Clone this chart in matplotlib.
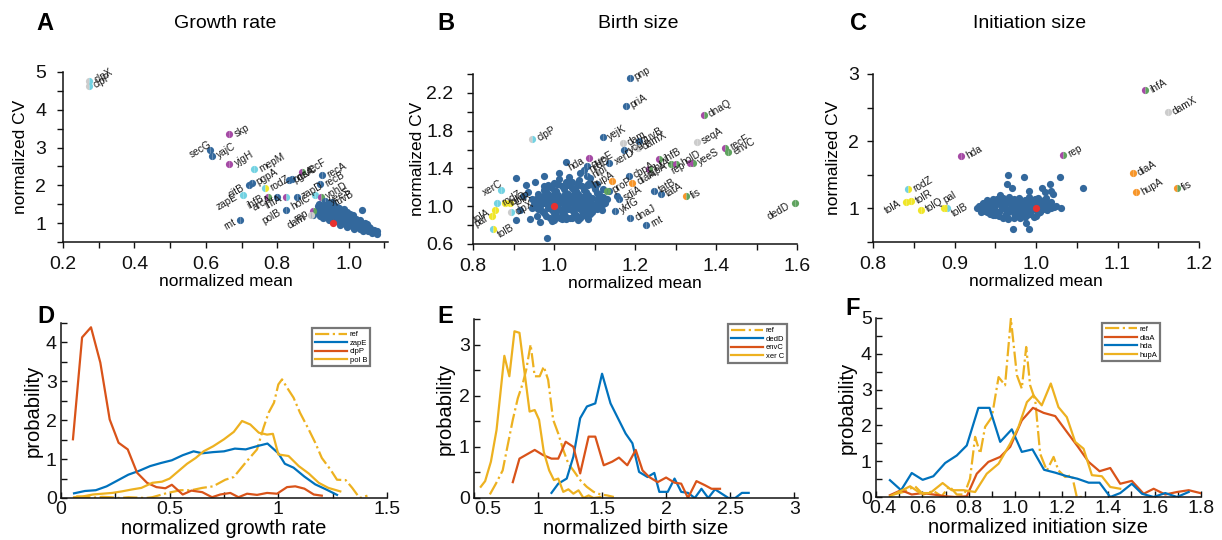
import matplotlib
matplotlib.use('Agg')
import matplotlib.pyplot as plt
import matplotlib.transforms as mtrans

plt.rcParams['font.family'] = ['Liberation Sans', 'DejaVu Sans']

# ---------------- colours ----------------
COL = {'b': '#33689c', 'r': '#e8312f', 'c': '#72d2e2', 'p': '#a54aa5',
       'g': '#5fa35f', 'y': '#f0e628', 'o': '#f7962a', 'k': '#cccccc'}
ML_BLUE, ML_RED, ML_YEL = '#0072bd', '#d95319', '#edb120'

# ---------------- panel A data (growth rate) ----------------
a_bg_x = [0.918, 0.933, 0.946, 0.958, 0.915, 0.929, 0.941, 0.954, 0.967, 0.921, 0.935, 0.947, 0.961, 0.974, 0.987,
          0.912, 0.926, 0.939, 0.956, 0.969, 0.981, 0.996, 0.916, 0.931, 0.944, 0.961, 0.976, 0.989, 1.004,
          0.921, 0.936, 0.951, 0.964, 0.979, 0.996, 1.011, 0.929, 0.946, 0.959, 0.976, 0.991, 1.006, 1.021,
          0.944, 0.961, 0.974, 0.989, 1.006, 1.019, 1.033, 0.957, 0.973, 0.987, 1.003, 1.015, 1.031, 1.045,
          0.976, 0.991, 1.004, 1.021, 1.036, 1.051, 0.994, 1.011, 1.026, 1.039, 1.056, 1.016, 1.031, 1.044,
          1.059, 1.071, 1.041, 1.054, 1.067, 1.079, 1.066, 1.079, 1.036, 0.905, 0.900, 0.952, 0.985, 1.012]
a_bg_y = [1.51, 1.49, 1.52, 1.48, 1.44, 1.45, 1.42, 1.45, 1.43, 1.38, 1.37, 1.40, 1.36, 1.39, 1.37,
          1.32, 1.33, 1.30, 1.33, 1.31, 1.34, 1.30, 1.26, 1.27, 1.25, 1.28, 1.24, 1.27, 1.25,
          1.20, 1.21, 1.19, 1.22, 1.20, 1.18, 1.21, 1.14, 1.15, 1.13, 1.16, 1.13, 1.15, 1.12,
          1.08, 1.09, 1.07, 1.10, 1.06, 1.09, 1.07, 1.02, 1.03, 1.01, 1.04, 1.00, 1.03, 1.01,
          0.96, 0.97, 0.95, 0.98, 0.94, 0.97, 0.90, 0.91, 0.89, 0.92, 0.90, 0.84, 0.85, 0.83,
          0.86, 0.82, 0.78, 0.79, 0.77, 0.80, 0.73, 0.72, 1.34, 1.30, 1.22, 1.56, 1.10, 0.95]
a_ref = (0.955, 1.0)
a_names = ['clpX', 'clpP', 'skp', 'secG', 'yajC', 'yjgH', 'mepM', 'pgpA', 'citB', 'rodZ', 'ruvC', 'pgsA',
           'recF', 'recA', 'recB', 'zapE', 'ihfB', 'arcA', 'ihfA', 'zapD', 'holC', 'yohD', 'yeeS', 'ruvB',
           'rnt', 'polB', 'rep', 'dam']
a_x = [0.274, 0.272, 0.666, 0.611, 0.618, 0.666, 0.736, 0.728, 0.722, 0.766, 0.841, 0.832,
       0.869, 0.925, 0.920, 0.703, 0.775, 0.799, 0.825, 0.855, 0.906, 0.922, 0.934, 0.946,
       0.697, 0.824, 0.900, 0.894]
a_y = [4.77, 4.64, 3.35, 2.93, 2.78, 2.57, 2.42, 2.07, 2.00, 1.92, 2.18, 2.13,
       2.36, 2.27, 2.03, 1.75, 1.70, 1.70, 1.70, 1.70, 1.74, 1.70, 1.58, 1.52,
       1.08, 1.34, 1.33, 1.21]
a_col = ['kc', 'kc', 'pp', 'bb', 'bb', 'pp', 'cc', 'bb', 'bb', 'cy', 'bb', 'bb',
         'pg', 'bb', 'bb', 'cc', 'pg', 'bb', 'pc', 'bb', 'cc', 'pg', 'bb', 'bb',
         'bb', 'bb', 'pg', 'kk']
a_side = ['r', 'r', 'r', 'L', 'r', 'r', 'r', 'r', 'l', 'r', 'r', 'r',
          'r', 'r', 'r', 'l', 'l', 'l', 'l', 'r', 'l', 'r', 'r', 'r',
          'l', 'l', 'l', 'l']

# ---------------- panel B data (birth size) ----------------
b_bg_x = [1.000, 1.030, 1.060, 1.090, 0.990, 1.020, 1.045, 1.070, 1.100, 0.980, 1.005, 1.030, 1.055, 1.080, 1.105,
          0.970, 0.995, 1.020, 1.045, 1.070, 1.095, 1.120, 0.965, 0.990, 1.015, 1.040, 1.065, 1.090, 1.115,
          0.960, 0.985, 1.010, 1.035, 1.060, 1.085, 1.110, 0.970, 0.995, 1.020, 1.045, 1.070, 1.095,
          0.980, 1.005, 1.030, 1.055, 1.080, 1.000, 1.030, 1.060,
          1.012, 1.038, 1.062, 1.008, 1.033, 1.058, 1.083, 0.978, 1.003, 1.028, 1.052, 1.078, 0.985, 1.010, 1.035,
          1.060, 1.025, 1.050, 1.075,
          0.985, 1.010, 1.035, 1.060, 1.085, 0.975, 1.000, 1.025, 1.050, 1.075, 1.100,
          0.960, 0.985, 1.010, 1.035, 1.060, 1.085, 1.110, 0.955, 0.980, 1.005, 1.030, 1.055, 1.080, 1.105, 1.130,
          0.950, 0.975, 1.000, 1.025, 1.050, 1.075, 1.100, 1.125, 0.960, 0.985, 1.010, 1.035, 1.060, 1.085, 1.105,
          0.975, 1.000, 1.025, 1.050, 1.075, 1.090, 0.990, 1.015, 1.040, 1.065,
          0.907, 0.931, 0.953, 0.976, 0.976, 0.924, 0.945, 0.945, 0.940, 0.966, 0.983, 1.029, 1.064, 1.013, 1.044,
          1.089, 1.098, 1.114, 1.118, 1.093, 1.063, 1.019, 0.994, 1.044, 1.085, 1.135, 1.155, 1.122, 0.916, 0.959,
          0.966, 0.906, 0.935, 1.120, 1.105]
b_bg_y = [1.25, 1.26, 1.24, 1.25, 1.20, 1.21, 1.19, 1.21, 1.20, 1.15, 1.16, 1.14, 1.16, 1.15, 1.14,
          1.10, 1.11, 1.09, 1.11, 1.10, 1.09, 1.10, 1.05, 1.06, 1.04, 1.06, 1.05, 1.04, 1.05,
          1.00, 1.01, 0.99, 1.01, 1.00, 0.99, 1.00, 0.95, 0.96, 0.94, 0.96, 0.95, 0.94,
          0.90, 0.91, 0.89, 0.91, 0.90, 0.85, 0.86, 0.85,
          1.29, 1.31, 1.28, 1.23, 1.22, 1.23, 1.22, 1.13, 1.12, 1.13, 1.12, 1.12, 1.02, 1.03, 1.02,
          1.03, 0.97, 0.98, 0.97,
          1.225, 1.23, 1.22, 1.225, 1.23, 1.175, 1.17, 1.18, 1.175, 1.17, 1.18,
          1.125, 1.13, 1.12, 1.125, 1.13, 1.12, 1.125, 1.075, 1.08, 1.07, 1.075, 1.08, 1.07, 1.075, 1.08,
          1.025, 1.03, 1.02, 1.025, 1.03, 1.02, 1.025, 1.03, 0.975, 0.98, 0.97, 0.975, 0.98, 0.97, 0.975,
          0.925, 0.93, 0.92, 0.925, 0.93, 0.92, 0.875, 0.88, 0.87, 0.875,
          1.30, 1.22, 1.26, 1.32, 1.21, 1.105, 1.08, 0.98, 0.86, 0.83, 0.66, 1.465, 1.35, 1.35, 1.26,
          1.30, 1.21, 1.07, 0.96, 0.98, 0.89, 0.86, 0.84, 0.875, 0.86, 1.16, 1.105, 1.027, 0.964, 0.893,
          1.00, 0.858, 1.15, 1.18, 1.24]
b_ref = (1.0, 1.0)
b_names = ['pnp', 'priA', 'clpP', 'yejK', 'dam', 'ruvB', 'ycgG', 'damX', 'hda', 'queE', 'xerD', 'nrdD',
           'nlpI', 'hupA', 'proP', 'cbpA', 'diaA', 'sdiA', 'ihfB', 'ihfA', 'rapA', 'holD', 'rep', 'yeeS',
           'dnaQ', 'seqA', 'recF', 'envC', 'tatB', 'tatA', 'fis', 'ykfG', 'dnaJ', 'rnt', 'dedD', 'xerC',
           'rodZ', 'tolR', 'tolA', 'pal', 'tolQ', 'clpX', 'tolB']
b_x = [1.187, 1.177, 0.946, 1.122, 1.170, 1.209, 1.172, 1.207, 1.087, 1.081, 1.137, 1.075,
       1.081, 1.143, 1.132, 1.184, 1.193, 1.160, 1.259, 1.234, 1.290, 1.302, 1.336, 1.342,
       1.370, 1.352, 1.422, 1.430, 1.246, 1.263, 1.325, 1.151, 1.188, 1.227, 1.595, 0.868,
       0.860, 0.891, 0.854, 0.848, 0.879, 0.893, 0.850]
b_y = [2.36, 2.06, 1.71, 1.73, 1.67, 1.695, 1.59, 1.62, 1.51, 1.43, 1.46, 1.38,
       1.32, 1.27, 1.165, 1.32, 1.25, 1.08, 1.50, 1.39, 1.45, 1.45, 1.46, 1.46,
       1.97, 1.68, 1.62, 1.57, 1.165, 1.13, 1.105, 0.95, 0.87, 0.805, 1.03, 1.176,
       1.035, 1.03, 0.957, 0.893, 1.03, 0.935, 0.76]
b_col = ['bb', 'bb', 'kc', 'bb', 'kk', 'bb', 'bb', 'kk', 'pp', 'bb', 'bb', 'bb',
         'bb', 'oo', 'gg', 'bb', 'oo', 'bb', 'pg', 'pg', 'gg', 'pg', 'pg', 'pg',
         'pg', 'kk', 'pg', 'gg', 'bb', 'bb', 'og', 'bb', 'bb', 'bb', 'gg', 'cc',
         'cc', 'yy', 'yy', 'yy', 'yy', 'kc', 'cy']
b_side = ['r', 'r', 'r', 'r', 'r', 'r', 'r', 'r', 'l', 'r', 'r', 'r',
          'r', 'L', 'r', 'r', 'r', 'r', 'r', 'r', 'l', 'r', 'l', 'r',
          'r', 'r', 'r', 'r', 'r', 'r', 'r', 'r', 'r', 'r', 'l', 'L',
          'r', 'r', 'l', 'l', 'r', 'r', 'R']

# ---------------- panel C data (initiation size) ----------------
c_bg_x = [0.955, 0.967, 0.979, 0.991, 1.003, 0.940, 0.950, 0.960, 0.970, 0.980, 0.990, 1.000, 1.010,
          0.935, 0.945, 0.955, 0.965, 0.975, 0.985, 0.995, 1.005, 1.015,
          0.930, 0.940, 0.950, 0.960, 0.970, 0.980, 0.990, 1.000, 1.010,
          0.928, 0.938, 0.948, 0.958, 0.968, 0.978, 0.988, 1.008, 1.018,
          0.935, 0.945, 0.955, 0.965, 0.975, 0.985, 0.995, 1.005,
          0.943, 0.953, 0.963, 0.973, 0.983, 0.993, 1.003,
          0.955, 0.965, 0.975, 0.985, 0.997, 0.966, 0.980,
          0.947, 0.960, 0.973, 0.986, 0.999, 1.012, 0.940, 0.953, 0.966, 0.979, 0.992, 1.005, 1.018,
          0.935, 0.948, 0.961, 0.974, 0.987, 1.000, 1.013, 0.932, 0.945, 0.958, 0.971, 0.984, 0.997, 1.010, 1.022,
          0.936, 0.949, 0.962, 0.975, 0.988, 1.001, 1.014, 0.940, 0.953, 0.966, 0.979, 0.992, 1.005,
          0.950, 0.963, 0.976, 0.989, 1.000, 0.960, 0.973, 0.986,
          0.966, 0.985, 1.030, 0.964, 0.970, 0.992, 1.007, 1.017, 1.021, 1.011, 1.025, 0.931, 0.945, 0.933,
          0.972, 0.992, 0.988, 0.964, 0.952, 1.058, 1.031, 0.956, 1.019, 0.942, 0.947]
c_bg_y = [1.16, 1.17, 1.15, 1.17, 1.16, 1.12, 1.13, 1.11, 1.13, 1.12, 1.11, 1.13, 1.12,
          1.08, 1.07, 1.09, 1.08, 1.07, 1.09, 1.08, 1.07, 1.08,
          1.04, 1.05, 1.03, 1.05, 1.04, 1.03, 1.05, 1.04, 1.03,
          1.00, 0.99, 1.01, 1.00, 0.99, 1.01, 1.00, 0.99, 1.00,
          0.96, 0.97, 0.95, 0.97, 0.96, 0.95, 0.97, 0.96,
          0.92, 0.93, 0.91, 0.93, 0.92, 0.91, 0.93,
          0.88, 0.87, 0.89, 0.88, 0.87, 0.84, 0.85,
          1.14, 1.15, 1.14, 1.13, 1.14, 1.15, 1.10, 1.10, 1.11, 1.10, 1.09, 1.10, 1.10,
          1.06, 1.06, 1.07, 1.06, 1.05, 1.06, 1.06, 1.02, 1.02, 1.03, 1.02, 1.01, 1.02, 1.02, 1.02,
          0.98, 0.98, 0.99, 0.98, 0.97, 0.98, 0.98, 0.94, 0.94, 0.95, 0.94, 0.93, 0.94,
          0.90, 0.90, 0.91, 0.90, 0.89, 0.86, 0.86, 0.87,
          1.49, 1.46, 1.46, 1.36, 1.31, 1.26, 1.31, 1.36, 1.21, 1.24, 1.04, 1.02, 1.06, 0.94,
          0.69, 0.69, 0.79, 1.11, 1.14, 1.30, 1.00, 1.20, 1.26, 1.10, 0.90]
c_ref = (1.0, 1.0)
c_names = ['ihfA', 'damX', 'hda', 'rep', 'diaA', 'hupA', 'fis', 'rodZ', 'tolA', 'tolR', 'tolQ', 'pal', 'tolB']
c_x = [1.134, 1.162, 0.908, 1.033, 1.119, 1.123, 1.173, 0.843, 0.841, 0.847, 0.859, 0.887, 0.891]
c_y = [2.76, 2.43, 1.78, 1.80, 1.52, 1.24, 1.30, 1.29, 1.10, 1.11, 0.98, 1.01, 1.01]
c_col = ['pg', 'kk', 'pp', 'pg', 'oo', 'oo', 'og', 'cy', 'yy', 'yy', 'yy', 'yy', 'yc']
c_side = ['r', 'r', 'r', 'r', 'r', 'r', 'r', 'r', 'l', 'r', 'r', 'U', 'R']

# ---------------- panel D data ----------------
d_ref_x = [0.07, 0.11, 0.15, 0.19, 0.23, 0.27, 0.31, 0.35, 0.39, 0.42, 0.49, 0.55, 0.60, 0.65, 0.70, 0.756,
           0.795, 0.848, 0.902, 0.932, 0.955, 0.98, 1.0, 1.017, 1.04, 1.07, 1.10, 1.14, 1.17, 1.20, 1.24, 1.27,
           1.31, 1.34, 1.374, 1.41]
d_ref_y = [0.04, 0.03, 0.01, 0.03, 0.02, 0.0, 0.02, 0.01, 0.0, 0.02, 0.13, 0.2, 0.2, 0.26, 0.30, 0.47,
           0.54, 0.9, 1.25, 1.81, 2.19, 2.45, 2.92, 3.05, 2.84, 2.58, 2.19, 1.76, 1.42, 1.03, 0.73, 0.47,
           0.46, 0.26, 0.0, 0.06]
d_zapE_x = [0.06, 0.11, 0.16, 0.21, 0.26, 0.31, 0.36, 0.41, 0.46, 0.51, 0.56, 0.61, 0.65, 0.70, 0.75, 0.80,
            0.85, 0.90, 0.95, 1.0, 1.03, 1.07, 1.12, 1.17, 1.22, 1.27]
d_zapE_y = [0.12, 0.18, 0.2, 0.3, 0.45, 0.6, 0.7, 0.82, 0.9, 0.97, 1.1, 1.2, 1.15, 1.18, 1.2, 1.27,
            1.25, 1.33, 1.4, 1.15, 0.88, 0.78, 0.55, 0.35, 0.22, 0.08]
d_clpP_x = [0.055, 0.097, 0.138, 0.181, 0.224, 0.265, 0.307, 0.35, 0.396, 0.439, 0.48, 0.51, 0.56, 0.60,
            0.65, 0.695, 0.733, 0.779, 0.817, 0.856, 0.902, 0.948, 0.994, 1.04, 1.078, 1.12, 1.163, 1.20]
d_clpP_y = [1.51, 4.13, 4.39, 3.48, 2.02, 1.42, 1.25, 0.65, 0.39, 0.28, 0.25, 0.34, 0.09, 0.19,
            0.15, 0.02, 0.09, 0.13, 0.02, 0.11, 0.08, 0.13, 0.11, 0.28, 0.30, 0.24, 0.09, 0.06]
d_polB_x = [0.06, 0.10, 0.147, 0.19, 0.235, 0.28, 0.327, 0.37, 0.42, 0.465, 0.50, 0.54, 0.58, 0.62, 0.656,
            0.70, 0.75, 0.795, 0.833, 0.871, 0.91, 0.948, 0.975, 1.0, 1.047, 1.094, 1.14, 1.186, 1.23, 1.285]
d_polB_y = [0.02, 0.04, 0.09, 0.11, 0.13, 0.17, 0.22, 0.26, 0.39, 0.42, 0.50, 0.69, 0.88, 1.03, 1.2,
            1.33, 1.51, 1.70, 1.98, 1.89, 1.68, 1.63, 1.65, 1.12, 1.08, 0.82, 0.63, 0.39, 0.26, 0.17]

# ---------------- panel E data ----------------
e_ref_x = [0.624, 0.671, 0.724, 0.763, 0.803, 0.842, 0.882, 0.908, 0.942, 0.974, 1.013, 1.045, 1.079, 1.118,
           1.158, 1.197, 1.237, 1.276, 1.329, 1.38, 1.434, 1.487, 1.54, 1.592]
e_ref_y = [0.07, 0.28, 0.54, 1.03, 1.53, 1.95, 2.25, 2.51, 3.0, 2.38, 2.38, 2.57, 2.31, 1.53,
           1.26, 0.94, 0.67, 0.54, 0.35, 0.22, 0.12, 0.07, 0.05, 0.02]
e_dedD_x = [1.105, 1.158, 1.224, 1.276, 1.329, 1.382, 1.447, 1.5, 1.566, 1.618, 1.684, 1.737, 1.789, 1.855,
            1.908, 1.947, 2.013, 2.066, 2.118, 2.171, 2.224, 2.276, 2.329, 2.382, 2.434, 2.487, 2.54, 2.592, 2.645]
e_dedD_y = [0.1, 0.28, 0.38, 0.81, 1.56, 1.79, 1.85, 2.43, 1.85, 1.59, 1.26, 1.07, 0.51, 0.41,
            0.49, 0.12, 0.12, 0.38, 0.12, 0.1, 0.0, 0.18, 0.0, 0.17, 0.085, 0.0, 0.0, 0.1, 0.1]
e_envC_x = [0.803, 0.855, 0.974, 1.039, 1.105, 1.158, 1.216, 1.276, 1.329, 1.395, 1.447, 1.513, 1.579, 1.632,
            1.697, 1.763, 1.816, 1.868, 1.934, 2.0, 2.066, 2.118, 2.171, 2.237, 2.303, 2.355, 2.421]
e_envC_y = [0.31, 0.77, 0.94, 0.84, 0.77, 0.77, 1.10, 1.0, 0.48, 1.2, 1.2, 0.64, 0.71, 0.79,
            0.64, 0.94, 0.54, 0.41, 0.31, 0.40, 0.30, 0.28, 0.0, 0.33, 0.25, 0.18, 0.18]
e_xerC_x = [0.553, 0.587, 0.632, 0.676, 0.737, 0.776, 0.816, 0.855, 0.934, 0.974, 1.008, 1.045, 1.087, 1.124,
            1.158, 1.197, 1.237, 1.276, 1.316, 1.355, 1.395, 1.434, 1.487]
e_xerC_y = [0.22, 0.33, 0.71, 1.33, 2.78, 2.38, 3.26, 3.23, 1.69, 1.72, 1.53, 0.90, 0.54, 0.35,
            0.38, 0.12, 0.17, 0.085, 0.15, 0.0, 0.05, 0.0, 0.02]

# ---------------- panel F data ----------------
f_ref_x = [0.475, 0.518, 0.568, 0.604, 0.647, 0.683, 0.716, 0.748, 0.78, 0.805, 0.827, 0.849, 0.87, 0.899,
           0.928, 0.956, 0.981, 1.007, 1.028, 1.047, 1.064, 1.086, 1.107, 1.136, 1.165, 1.186, 1.215, 1.244,
           1.265, 1.287]
f_ref_y = [0.07, 0.14, 0.3, 0.07, 0.17, 0.02, 0.3, 0.07, 0.07, 0.51, 1.68, 1.21, 1.96, 2.23,
           3.35, 3.12, 4.98, 3.40, 3.03, 4.19, 3.12, 2.70, 1.21, 0.74, 1.12, 0.74, 0.56, 0.61,
           0.0, 0.0]
f_diaA_x = [0.46, 0.508, 0.554, 0.601, 0.647, 0.698, 0.74, 0.791, 0.834, 0.884, 0.935, 0.978, 1.028, 1.076,
            1.122, 1.172, 1.222, 1.268, 1.316, 1.363, 1.409, 1.452, 1.502, 1.553, 1.596, 1.646, 1.697, 1.747,
            1.797]
f_diaA_y = [0.05, 0.19, 0.07, 0.11, 0.07, 0.02, 0.0, 0.02, 0.65, 0.98, 1.12, 1.40, 2.14, 2.49,
            2.35, 2.26, 1.82, 1.42, 0.98, 0.72, 0.81, 0.37, 0.45, 0.09, 0.23, 0.07, 0.14, 0.19, 0.11]
f_hda_x = [0.46, 0.508, 0.554, 0.601, 0.647, 0.698, 0.748, 0.791, 0.841, 0.889, 0.935, 0.985, 1.028, 1.074,
           1.124, 1.172, 1.222, 1.268, 1.316, 1.363, 1.409, 1.452, 1.502, 1.546, 1.596, 1.646, 1.697, 1.747]
f_hda_y = [0.47, 0.19, 0.67, 0.48, 0.58, 0.95, 1.16, 1.44, 2.49, 2.49, 1.54, 1.89, 1.26, 1.33,
           0.76, 0.68, 0.58, 0.51, 0.40, 0.40, 0.0, 0.11, 0.37, 0.09, 0.0, 0.11, 0.0, 0.14]
f_hupA_x = [0.46, 0.547, 0.59, 0.633, 0.687, 0.726, 0.777, 0.827, 0.877, 0.928, 0.978, 1.014, 1.05, 1.078,
            1.114, 1.153, 1.186, 1.222, 1.258, 1.294, 1.33, 1.373, 1.409, 1.452]
f_hupA_y = [0.02, 0.3, 0.11, 0.11, 0.39, 0.19, 0.19, 0.14, 0.65, 0.93, 1.49, 1.96, 2.65, 2.84,
            2.56, 3.17, 2.51, 2.23, 1.54, 1.35, 0.61, 0.58, 0.28, 0.23]

# ---------------- figure ----------------
W, H = 1222, 540
fig = plt.figure(figsize=(W / 100, H / 100), dpi=100)
MS = 5.2


def px_axes(l, t, r, b):
    return fig.add_axes([l / W, 1 - b / H, (r - l) / W, (b - t) / H])


def style(ax, inward=False, xpad=4, ypad=4):
    for s in ('top', 'right'):
        ax.spines[s].set_visible(False)
    for s in ('left', 'bottom'):
        ax.spines[s].set_linewidth(1.1)
        ax.spines[s].set_color('#111111')
    ax.tick_params(direction='in' if inward else 'out', length=4, width=1.0,
                   labelsize=14, colors='#111111')
    ax.tick_params(axis='x', pad=xpad)
    ax.tick_params(axis='y', pad=ypad)


def ticks(ax, axis, lo, hi, step, labelstep, fmt):
    n = int(round((hi - lo) / step))
    vals = [lo + i * step for i in range(n + 1)]
    labs = []
    for v in vals:
        k = (v - lo) / labelstep
        labs.append(fmt.format(v) if abs(k - round(k)) < 1e-6 else '')
    if axis == 'x':
        ax.set_xticks(vals)
        ax.set_xticklabels(labs)
    else:
        ax.set_yticks(vals)
        ax.set_yticklabels(labs)


def shift_first_xlabel(ax, dx_px):
    lab = ax.get_xticklabels()[0]
    lab.set_transform(lab.get_transform() + mtrans.ScaledTranslation(dx_px / 100, 0, fig.dpi_scale_trans))


def scatter_panel(ax, bgx, bgy, ref, names, xs, ys, cols, sides):
    ax.plot(bgx, bgy, 'o', ms=MS, color=COL['b'], mec='none', zorder=2)
    ax.plot([ref[0]], [ref[1]], 'o', ms=MS, color=COL['r'], mec='none', zorder=4)
    for n, x, y, c, s in zip(names, xs, ys, cols, sides):
        ax.plot([x], [y], 'o', ms=MS, fillstyle='left', markerfacecolor=COL[c[0]],
                markerfacecoloralt=COL[c[1]], mec='none', zorder=3, clip_on=False)
        if s == 'r':
            off, ha = (4, 0), 'left'
        elif s == 'R':
            off, ha = (4, -5), 'left'
        elif s == 'U':
            off, ha = (0, 5), 'left'
        elif s == 'L':
            off, ha = (1, 5), 'right'
        else:
            off, ha = (-4, -1), 'right'
        ax.annotate(n, (x, y), xytext=off, textcoords='offset points', rotation=30,
                    rotation_mode='anchor', ha=ha, va='center', fontsize=7.3, color='#1a1a1a', zorder=5)


# ---- A ----
axA = px_axes(63, 72, 388, 242)
style(axA, xpad=6, ypad=8)
scatter_panel(axA, a_bg_x, a_bg_y, a_ref, a_names, a_x, a_y, a_col, a_side)
axA.set_xlim(0.2, 1.11)
axA.set_ylim(0.5, 5.0)
ticks(axA, 'x', 0.2, 1.1, 0.1, 0.2, '{:.1f}')
ticks(axA, 'y', 0.5, 5.0, 0.5, 1.0, '{:.0f}')
axA.set_yticklabels([''] + [str(int(v)) if v == int(v) else '' for v in [1, 1.5, 2, 2.5, 3, 3.5, 4, 4.5, 5]])
axA.set_xlabel('normalized mean', fontsize=12.5, labelpad=1)
axA.set_ylabel('normalized CV', fontsize=12.5, labelpad=5)

# ---- B ----
axB = px_axes(473, 74, 797, 244)
style(axB, xpad=6, ypad=10)
scatter_panel(axB, b_bg_x, b_bg_y, b_ref, b_names, b_x, b_y, b_col, b_side)
axB.set_xlim(0.8, 1.6)
axB.set_ylim(0.6, 2.4)
ticks(axB, 'x', 0.8, 1.6, 0.1, 0.2, '{:.1f}')
ticks(axB, 'y', 0.6, 2.4, 0.2, 0.4, '{:.1f}')
axB.set_xlabel('normalized mean', fontsize=12.5, labelpad=1)
axB.set_ylabel('normalized CV', fontsize=12.5, labelpad=1)

# ---- C ----
axC = px_axes(873, 74, 1199, 242)
style(axC, xpad=6, ypad=6)
scatter_panel(axC, c_bg_x, c_bg_y, c_ref, c_names, c_x, c_y, c_col, c_side)
axC.set_xlim(0.8, 1.2)
axC.set_ylim(0.5, 3.0)
ticks(axC, 'x', 0.8, 1.2, 0.05, 0.1, '{:.1f}')
ticks(axC, 'y', 0.5, 3.0, 0.5, 1.0, '{:.0f}')
axC.set_yticklabels([''] + [str(int(v)) if v == int(v) else '' for v in [1, 1.5, 2, 2.5, 3]])
axC.set_xlabel('normalized mean', fontsize=12.5, labelpad=1)
axC.set_ylabel('normalized CV', fontsize=12.5, labelpad=5)


def legend(ax, handles, labels, x, y):
    lg = ax.legend(handles, labels, loc='upper left', bbox_to_anchor=(x, y), fontsize=5.5,
                   frameon=True, fancybox=False, handlelength=4.2, handletextpad=0.4,
                   labelspacing=0.15, borderpad=0.35, borderaxespad=0)
    fr = lg.get_frame()
    fr.set_edgecolor('#555555')
    fr.set_linewidth(1.6)


def hist_lines(ax, series):
    hs = []
    for xs, ys, c, ls in series:
        h, = ax.plot(xs, ys, color=c, lw=1.6, ls=ls)
        hs.append(h)
    return hs


# ---- D ----
axD = px_axes(61, 323, 387, 498)
style(axD, inward=True, xpad=2, ypad=3)
hD = hist_lines(axD, [(d_ref_x, d_ref_y, ML_YEL, '-.'), (d_zapE_x, d_zapE_y, ML_BLUE, '-'),
                      (d_clpP_x, d_clpP_y, ML_RED, '-'), (d_polB_x, d_polB_y, ML_YEL, '-')])
axD.set_xlim(0, 1.5)
axD.set_ylim(0, 4.5)
ticks(axD, 'x', 0, 1.5, 0.25, 0.5, '{:g}')
ticks(axD, 'y', 0, 4.5, 0.5, 1.0, '{:.0f}')
axD.set_xlabel('normalized growth rate', fontsize=14.5, labelpad=1)
axD.set_ylabel('probability', fontsize=14.5, labelpad=2)
legend(axD, hD, ['ref', 'zapE', 'clpP', 'pol B'], 0.77, 0.97)

# ---- E ----
axE = px_axes(474, 319, 798, 498)
style(axE, inward=True, xpad=2, ypad=3)
hE = hist_lines(axE, [(e_ref_x, e_ref_y, ML_YEL, '-.'), (e_dedD_x, e_dedD_y, ML_BLUE, '-'),
                      (e_envC_x, e_envC_y, ML_RED, '-'), (e_xerC_x, e_xerC_y, ML_YEL, '-')])
axE.set_xlim(0.5, 3.03)
axE.set_ylim(0, 3.5)
ticks(axE, 'x', 0.5, 3.0, 0.5, 0.5, '{:g}')
ticks(axE, 'y', 0, 3.5, 0.5, 1.0, '{:.0f}')
shift_first_xlabel(axE, 14)
axE.set_xlabel('normalized birth size', fontsize=14.5, labelpad=1)
axE.set_ylabel('probability', fontsize=14.5, labelpad=3)
legend(axE, hE, ['ref', 'dedD', 'envC', 'xer C'], 0.784, 0.97)

# ---- F ----
axF = px_axes(876, 318, 1201, 497)
style(axF, inward=True, xpad=2, ypad=3)
hF = hist_lines(axF, [(f_ref_x, f_ref_y, ML_YEL, '-.'), (f_diaA_x, f_diaA_y, ML_RED, '-'),
                      (f_hda_x, f_hda_y, ML_BLUE, '-'), (f_hupA_x, f_hupA_y, ML_YEL, '-')])
axF.set_xlim(0.4, 1.8)
axF.set_ylim(0, 5)
ticks(axF, 'x', 0.4, 1.8, 0.1, 0.2, '{:.1f}')
ticks(axF, 'y', 0, 5, 0.5, 1.0, '{:.0f}')
shift_first_xlabel(axF, 7)
axF.set_xlabel('normalized initiation size', fontsize=14.5, labelpad=1)
axF.set_ylabel('probability', fontsize=14.5, labelpad=3)
legend(axF, hF, ['ref', 'diaA', 'hda', 'hupA'], 0.695, 0.972)

# ---- panel letters and titles ----
for lab, x, y in [('A', 36, 30), ('B', 437, 30), ('C', 850, 30), ('D', 37, 323), ('E', 437, 323), ('F', 845, 315)]:
    fig.text(x / W, 1 - y / H, lab, fontsize=17, fontweight='bold', ha='left', va='baseline')
for t, x in [('Growth rate', 225), ('Birth size', 638), ('Initiation size', 1030)]:
    fig.text(x / W, 1 - 23 / H, t, fontsize=14, ha='center', va='center')

fig.savefig('out.png', dpi=100)
